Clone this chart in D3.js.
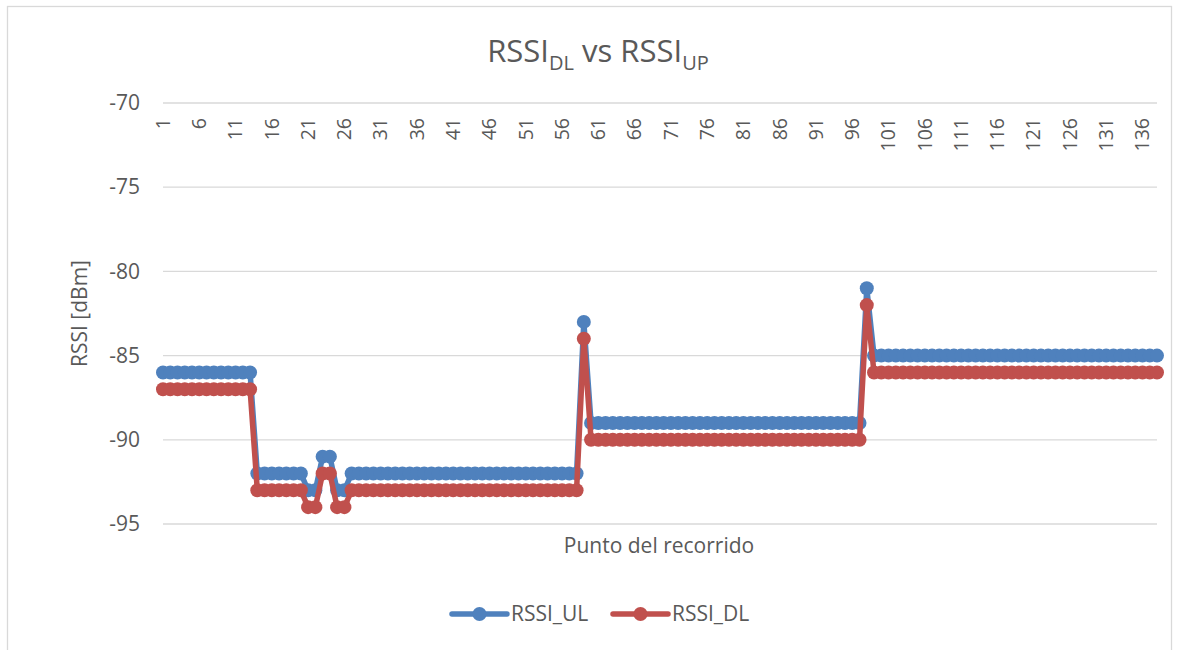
<!DOCTYPE html>
<html>
<head>
<meta charset="utf-8">
<script src="https://cdn.jsdelivr.net/npm/d3@7"></script>
<style>
  body { margin: 0; background: #fff; }
  text { font-family: "Open Sans", Lato, sans-serif; fill: #595959; }
</style>
</head>
<body>
<div id="chart"></div>
<script>
// puntos del recorrido 1..138
const puntos = d3.range(1, 139)

// etiquetas del eje x (cada 5 puntos)
const xTickLabels = [1, 6, 11, 16, 21, 26, 31, 36, 41, 46, 51, 56, 61, 66, 71, 76,
    81, 86, 91, 96, 101, 106, 111, 116, 121, 126, 131, 136]

const yTicks = [-95, -90, -85, -80, -75, -70]

const rssiUL = [
    -86, -86, -86, -86, -86, -86, -86, -86, -86, -86,
    -86, -86, -86, -92, -92, -92, -92, -92, -92, -92,
    -93, -93, -91, -91, -93, -93, -92, -92, -92, -92,
    -92, -92, -92, -92, -92, -92, -92, -92, -92, -92,
    -92, -92, -92, -92, -92, -92, -92, -92, -92, -92,
    -92, -92, -92, -92, -92, -92, -92, -92, -83, -89,
    -89, -89, -89, -89, -89, -89, -89, -89, -89, -89,
    -89, -89, -89, -89, -89, -89, -89, -89, -89, -89,
    -89, -89, -89, -89, -89, -89, -89, -89, -89, -89,
    -89, -89, -89, -89, -89, -89, -89, -81, -85, -85,
    -85, -85, -85, -85, -85, -85, -85, -85, -85, -85,
    -85, -85, -85, -85, -85, -85, -85, -85, -85, -85,
    -85, -85, -85, -85, -85, -85, -85, -85, -85, -85,
    -85, -85, -85, -85, -85, -85, -85, -85
]

const rssiDL = [
    -87, -87, -87, -87, -87, -87, -87, -87, -87, -87,
    -87, -87, -87, -93, -93, -93, -93, -93, -93, -93,
    -94, -94, -92, -92, -94, -94, -93, -93, -93, -93,
    -93, -93, -93, -93, -93, -93, -93, -93, -93, -93,
    -93, -93, -93, -93, -93, -93, -93, -93, -93, -93,
    -93, -93, -93, -93, -93, -93, -93, -93, -84, -90,
    -90, -90, -90, -90, -90, -90, -90, -90, -90, -90,
    -90, -90, -90, -90, -90, -90, -90, -90, -90, -90,
    -90, -90, -90, -90, -90, -90, -90, -90, -90, -90,
    -90, -90, -90, -90, -90, -90, -90, -82, -86, -86,
    -86, -86, -86, -86, -86, -86, -86, -86, -86, -86,
    -86, -86, -86, -86, -86, -86, -86, -86, -86, -86,
    -86, -86, -86, -86, -86, -86, -86, -86, -86, -86,
    -86, -86, -86, -86, -86, -86, -86, -86
]

const series = [
    { name: "RSSI_UL", color: "#4f81bd", values: rssiUL },
    { name: "RSSI_DL", color: "#c0504d", values: rssiDL }
]

const width = 1178
const height = 650
const plot = { left: 163, right: 1157, top: 103, bottom: 524 }

const svg = d3.select('#chart').append('svg')
    .attr('width', width)
    .attr('height', height)

// borde del grafico
svg.append('rect')
    .attr('x', 7.5).attr('y', 6.5)
    .attr('width', 1164).attr('height', 660)
    .attr('fill', 'none')
    .attr('stroke', '#d9d9d9')
    .attr('stroke-width', 1.3)

const x = d3.scalePoint().domain(puntos).range([plot.left, plot.right])
const y = d3.scaleLinear().domain([-95, -70]).range([plot.bottom, plot.top])

// lineas de la cuadricula
svg.append('g')
    .selectAll('line')
    .data(yTicks)
    .enter()
    .append('line')
    .attr('x1', plot.left).attr('x2', plot.right)
    .attr('y1', d => y(d)).attr('y2', d => y(d))
    .attr('stroke', '#d9d9d9')
    .attr('stroke-width', 1.3)

// eje y
const yAxis = svg.append('g')
    .attr('transform', `translate(${plot.left},0)`)
    .call(d3.axisLeft(y).tickValues(yTicks).tickSize(0).tickPadding(23).tickFormat(d => String(d)))
yAxis.select('.domain').remove()
yAxis.selectAll('text')
    .style('font-size', '21px')
    .style('font-family', '"Open Sans", sans-serif')
    .attr('fill', '#595959')

// eje x: etiquetas giradas debajo de la linea de -70
svg.append('g')
    .selectAll('text')
    .data(xTickLabels)
    .enter()
    .append('text')
    .attr('transform', d => `translate(${x(d)},${plot.top + 15}) rotate(-90)`)
    .attr('text-anchor', 'end')
    .attr('dy', '0.35em')
    .style('font-size', '19.5px')
    .text(d => d)

// titulos
const title = svg.append('text')
    .attr('x', 598)
    .attr('y', 62)
    .attr('text-anchor', 'middle')
    .style('font-size', '31px')
title.append('tspan').text('RSSI')
title.append('tspan').attr('dy', 8).style('font-size', '20px').text('DL')
title.append('tspan').attr('dy', -8).text(' vs RSSI')
title.append('tspan').attr('dy', 8).style('font-size', '20px').text('UP')

svg.append('text')
    .attr('transform', `translate(87,${(plot.top + plot.bottom) / 2}) rotate(-90)`)
    .attr('text-anchor', 'middle')
    .style('font-size', '21px')
    .text('RSSI [dBm]')

svg.append('text')
    .attr('x', (plot.left + plot.right) / 2 - 1)
    .attr('y', 553)
    .attr('text-anchor', 'middle')
    .style('font-size', '21px')
    .text('Punto del recorrido')

// series
const line = d3.line()
    .x((d, i) => x(puntos[i]))
    .y(d => y(d))

series.forEach(s => {
    const g = svg.append('g')
    g.append('path')
        .datum(s.values)
        .attr('d', line)
        .attr('fill', 'none')
        .attr('stroke', s.color)
        .attr('stroke-width', 5.5)
        .attr('stroke-linejoin', 'round')
    g.selectAll('circle')
        .data(s.values)
        .enter()
        .append('circle')
        .attr('cx', (d, i) => x(puntos[i]))
        .attr('cy', d => y(d))
        .attr('r', 7)
        .attr('fill', s.color)
})

// leyenda
const legendX = [452, 613]
series.forEach((s, i) => {
    const g = svg.append('g').attr('transform', `translate(${legendX[i]},614)`)
    g.append('line')
        .attr('x1', 0).attr('x2', 55)
        .attr('stroke', s.color)
        .attr('stroke-width', 5.5)
        .attr('stroke-linecap', 'round')
    g.append('circle')
        .attr('cx', 27.5)
        .attr('r', 7)
        .attr('fill', s.color)
    g.append('text')
        .attr('x', 59)
        .attr('dy', '0.35em')
        .style('font-size', '21px')
        .text(s.name)
})
</script>
</body>
</html>
